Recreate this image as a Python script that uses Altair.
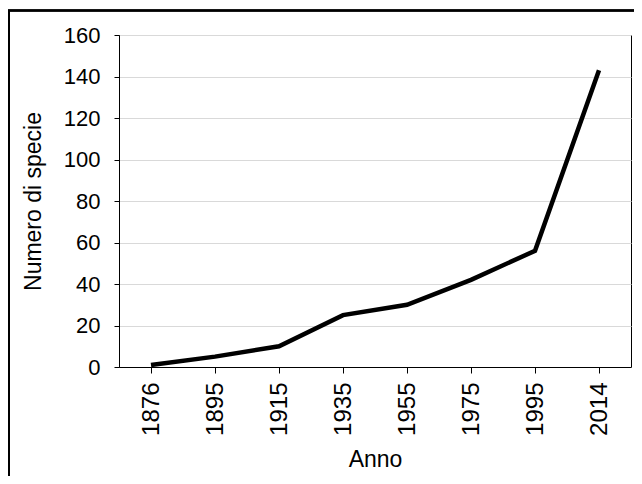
import altair as alt
import pandas as pd

anni = ["1876", "1895", "1915", "1935", "1955", "1975", "1995", "2014"]
specie = [1, 5, 10, 25, 30, 42, 56, 143]

df = pd.DataFrame({"Anno": anni, "Specie": specie})
FONT = "Liberation Sans"

line = alt.Chart(df).mark_line(color="black", strokeWidth=4.5, strokeJoin="miter").encode(
    x=alt.X("Anno:N", sort=anni,
            scale=alt.Scale(type="point", padding=0.5),
            axis=alt.Axis(title="Anno", labelAngle=270, labelAlign="right", labelBaseline="middle",
                          labelPadding=9, tickSize=6, titlePadding=13, grid=False,
                          labelFontSize=24,
                          domainColor="black", tickColor="black")),
    y=alt.Y("Specie:Q",
            scale=alt.Scale(domain=[0, 160], nice=False),
            axis=alt.Axis(title="Numero di specie", values=list(range(0, 161, 20)),
                          tickSize=5, labelPadding=14, titlePadding=18,
                          gridColor="#d9d9d9", domainColor="black", tickColor="black")),
)

frame = alt.Chart(df).mark_rect(fill=None, stroke="black", strokeWidth=1.5).encode(
    x=alt.value(-110.2), x2=alt.value(540), y=alt.value(-24.5), y2=alt.value(470)
)

chart = alt.layer(frame, line).properties(
    width=512, height=332,
    autosize=alt.AutoSizeParams(type="none"),
    padding={"left": 111, "top": 27, "right": 3, "bottom": 109},
).configure_view(stroke="black", strokeWidth=1).configure_axis(
    labelFont=FONT, titleFont=FONT, labelFontSize=22, titleFontSize=23,
    titleFontWeight="normal", labelColor="black", titleColor="black",
)

chart.save("out.html", embed_options={"renderer": "svg", "actions": False})
